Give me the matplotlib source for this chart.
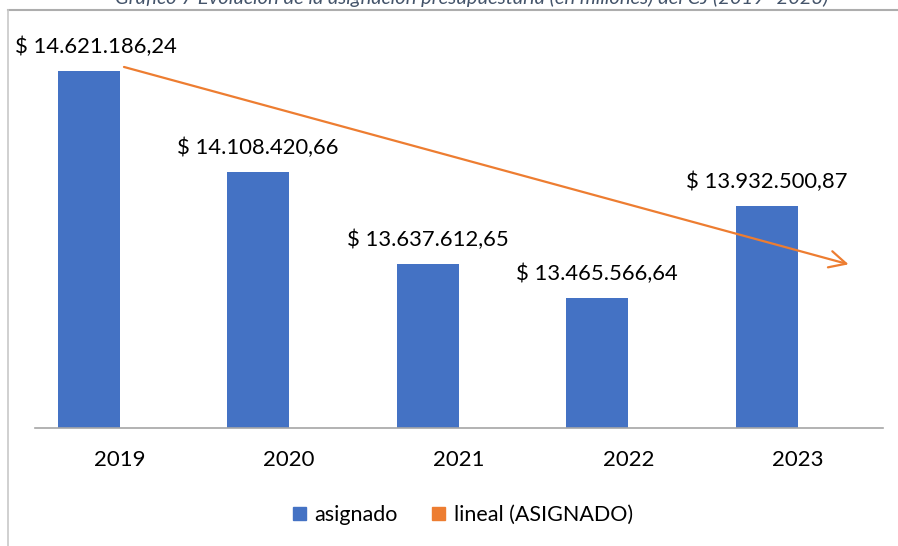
import matplotlib
matplotlib.use('Agg')
import matplotlib.pyplot as plt
from matplotlib.patches import Patch
from matplotlib.lines import Line2D

plt.rcParams['font.family'] = ['Lato', 'DejaVu Sans']

# datos
years = ['2019', '2020', '2021', '2022', '2023']
asignado = [14621186.24, 14108420.66, 13637612.65, 13465566.64, 13932500.87]
# flecha de tendencia (posicion de categoria, valor)
trend_x = [0.025, 4.30]
trend_v = [14642000, 13635000]

title = 'Gráfico 7 Evolución de la asignación presupuestaria (en millones) del CJ (2019 -2023)'
blue = '#4472C4'
orange = '#ED7D31'
grey = '#A6A6A6'


def fmt(v):
    s = '{:,.2f}'.format(v)
    s = s.replace(',', '#').replace('.', ',').replace('#', '.')
    return '$ ' + s


fig = plt.figure(figsize=(8.98, 5.46), dpi=100)
ax = fig.add_axes([35 / 898, 118 / 546, 847.5 / 898, 392 / 546])

bw = 0.366
xs = list(range(len(years)))
ax.bar([x - bw for x in xs], asignado, width=bw, align='edge', color=blue, zorder=2)

shift = [7, 0, 0, 0, 0]
for x, v, dx in zip(xs, asignado, shift):
    ax.annotate(fmt(v), xy=(x - bw / 2, v), xytext=(dx, 24), textcoords='offset pixels',
                ha='center', va='center', fontsize=15.8, color='#000000', annotation_clip=False)

ax.annotate('', xy=(trend_x[1], trend_v[1]), xytext=(trend_x[0], trend_v[0]),
            arrowprops=dict(arrowstyle='->,head_length=0.6,head_width=0.3', color=orange,
                            lw=1.6, mutation_scale=20, shrinkA=0, shrinkB=0), zorder=3)

ax.set_xlim(-0.5, 4.5)
ax.set_ylim(12800000, 14800000)
ax.set_xticks(xs)
ax.set_xticklabels(years, fontsize=16)
ax.tick_params(axis='x', length=0, pad=16)
ax.set_yticks([])
for sp in ['top', 'right', 'left']:
    ax.spines[sp].set_visible(False)
ax.spines['bottom'].set_color(grey)
ax.spines['bottom'].set_linewidth(1.2)
ax.patch.set_alpha(0)

# marco del grafico
fig.add_artist(Line2D([8 / 898, 1.0], [536 / 546, 536 / 546], color='#ADADAD', lw=1.5))
fig.add_artist(Line2D([8 / 898, 8 / 898], [0, 536 / 546], color='#C8C8C8', lw=1.2))

fig.text(472 / 898, 542 / 546, title, ha='center', va='baseline', fontsize=14.5,
         style='italic', color='#44546A')

handles = [Patch(color=blue, label='asignado'), Patch(color=orange, label='lineal (ASIGNADO)')]
fig.legend(handles=handles, loc='center', bbox_to_anchor=(463 / 898, 31 / 546), ncol=2,
           frameon=False, fontsize=15.5, handlelength=0.6, handleheight=0.6,
           handletextpad=0.4, columnspacing=1.6)

fig.savefig('out.png', dpi=100)
